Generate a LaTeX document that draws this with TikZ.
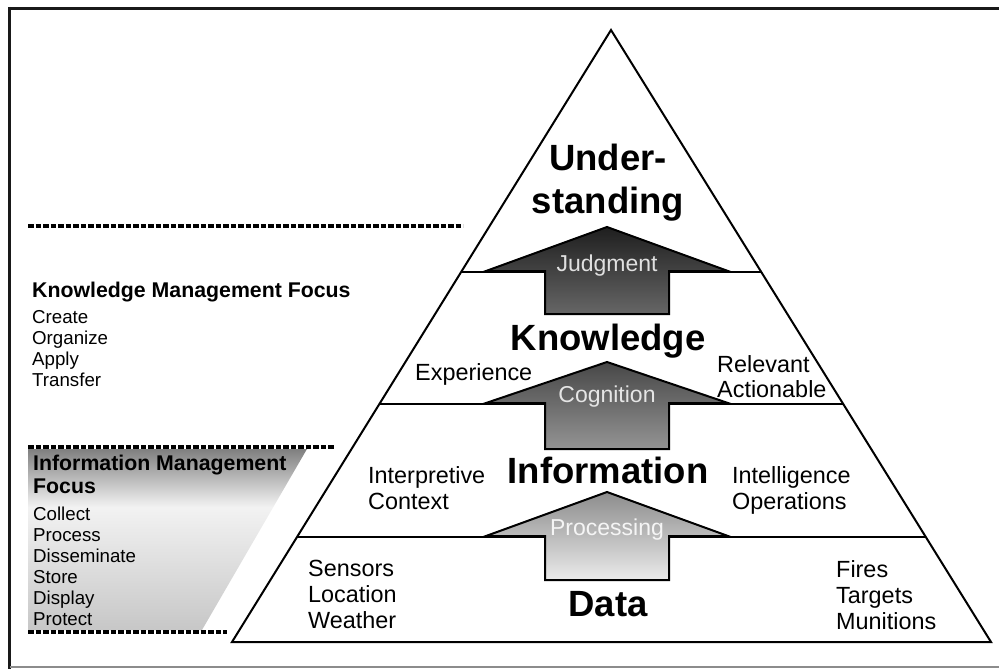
\documentclass[tikz,border=0pt]{standalone}
\usepackage{fontspec}
\setmainfont{Liberation Sans}
\usetikzlibrary{calc}

\pgfdeclareverticalshading{focusshade}{100bp}{color(0bp)=(black!22); color(25bp)=(black!22); color(59bp)=(black!5); color(75bp)=(black!50); color(100bp)=(black!50)}

\begin{document}
\begin{tikzpicture}[x=1pt,y=-1pt]
\tikzset{frameline/.style={draw=black!90,line width=3pt}}
\tikzset{pyramid/.style={draw=black,line width=2pt,line join=miter}}
\tikzset{layerline/.style={draw=black,line width=2.4pt}}
\tikzset{uparrow/.style={draw=black,line width=2pt,line join=miter}}
\tikzset{focusline/.style={draw=black,line width=3.2pt,dash pattern=on 5.5pt off 2pt}}
\tikzset{layername/.style={font=\fontsize{36.5}{40}\selectfont\bfseries,anchor=base,inner sep=0pt}}
\tikzset{arrowlabel/.style={font=\fontsize{23}{26}\selectfont,anchor=base,inner sep=0pt}}
\tikzset{sidelabel/.style={font=\fontsize{23.4}{26}\selectfont,anchor=base west,inner sep=0pt}}
\tikzset{focustitle/.style={font=\fontsize{21.3}{24}\selectfont\bfseries,anchor=base west,inner sep=0pt}}
\tikzset{focusitem/.style={font=\fontsize{18.7}{21}\selectfont,anchor=base west,inner sep=0pt}}

\useasboundingbox (0,0) rectangle (999,669);

% frame
\path[frameline] (8,8.5) -- (999,8.5);
\path[frameline] (9.5,7) -- (9.5,669);
\path[draw=black!45,line width=1.2pt] (9.5,667) -- (999,667);

% information management panel
\path[shading=focusshade] (28,449) -- (307,449) -- (202,630) -- (28,630) -- cycle;
\path[focusline] (28,226) -- (463,226);
\path[focusline] (28,447) -- (335,447);
\path[focusline] (28,632) -- (227,632);

% pyramid
\coordinate (top) at (611,30);
\coordinate (bl) at (232,642);
\coordinate (br) at (991,642);
\path[pyramid] (top) -- (bl) -- (br) -- cycle;
\path[layerline] ($(top)!0.3954!(bl)$) -- ($(top)!0.3954!(br)$);
\path[layerline] ($(top)!0.6111!(bl)$) -- ($(top)!0.6111!(br)$);
\path[layerline] ($(top)!0.8284!(bl)$) -- ($(top)!0.8284!(br)$);

% arrows
\path[uparrow,top color=black!88,bottom color=black!60] (607,227) -- (728,271) -- (669,271) -- (669,314) -- (545,314) -- (545,271) -- (486,271) -- cycle;
\path[uparrow,top color=black!72,bottom color=black!42] (607,362) -- (728,403) -- (669,403) -- (669,449) -- (545,449) -- (545,403) -- (486,403) -- cycle;
\path[uparrow,top color=black!45,bottom color=black!8] (607,492) -- (728,536) -- (669,536) -- (669,580) -- (545,580) -- (545,536) -- (486,536) -- cycle;

\node[arrowlabel,text=black!12] (judgment) at (607,271) {Judgment};
\node[arrowlabel,text=black!10] (cognition) at (607,402) {Cognition};
\node[arrowlabel,text=black!4] (processing) at (607,535) {Processing};

% layer names
\node[layername] (under) at (608,170) {Under-};
\node[layername] (standing) at (608,213) {standing};
\node[layername] (knowledge) at (608,350) {Knowledge};
\node[layername] (information) at (608,483) {Information};
\node[layername] (data) at (608,616) {Data};

% side labels
\node[sidelabel] (experience) at (415,380) {Experience};
\node[sidelabel] (relevant) at (717,372) {Relevant};
\node[sidelabel] (actionable) at (717,397) {Actionable};
\node[sidelabel] (interpretive) at (368,483) {Interpretive};
\node[sidelabel] (context) at (368,509) {Context};
\node[sidelabel] (intelligence) at (732,483) {Intelligence};
\node[sidelabel] (operations) at (732,509) {Operations};
\foreach \t [count=\i from 0] in {Sensors,Location,Weather} {
  \node[sidelabel] (left\i) at (308,576+26*\i) {\t};
}
\foreach \t [count=\i from 0] in {Fires,Targets,Munitions} {
  \node[sidelabel] (right\i) at (836,577+26*\i) {\t};
}

% focus texts
\node[focustitle] (kmtitle) at (32,297) {Knowledge Management Focus};
\foreach \t [count=\i from 0] in {Create,Organize,Apply,Transfer} {
  \node[focusitem] (km\i) at (32,323+21*\i) {\t};
}
\node[focustitle] (imtitle) at (33,470) {Information Management};
\node[focustitle] (imfocus) at (33,493) {Focus};
\foreach \t [count=\i from 0] in {Collect,Process,Disseminate,Store,Display,Protect} {
  \node[focusitem] (im\i) at (33,520.5+21*\i) {\t};
}
\end{tikzpicture}
\end{document}
